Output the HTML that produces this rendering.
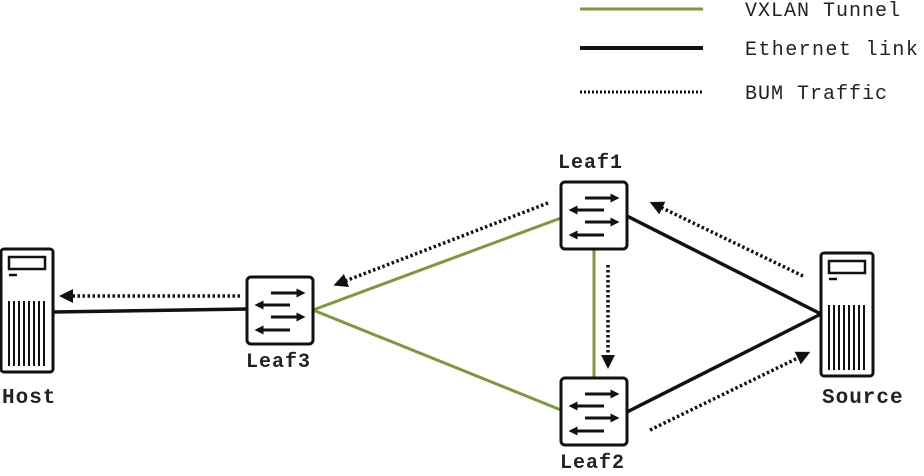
<!DOCTYPE html>
<html><head><style>
html,body{margin:0;padding:0;background:#fff;}
svg text{font-family:"Liberation Mono",monospace;fill:#222;}
</style></head><body>
<svg width="924" height="471" viewBox="0 0 924 471" xmlns="http://www.w3.org/2000/svg">
<defs>
<marker id="ah" viewBox="0 0 10 10" refX="5" refY="5" markerWidth="4" markerHeight="4" orient="auto"><path d="M0,0 L10,5 L0,10 z" fill="#111"/></marker>
<marker id="sh" viewBox="0 0 10 10" refX="5" refY="5" markerWidth="3" markerHeight="3" orient="auto"><path d="M0,0 L10,5 L0,10 z" fill="#111"/></marker>
<g id="sw">
<rect x="0" y="0" width="66" height="67" rx="4" fill="#fff" stroke="#111" stroke-width="3"/>
<g stroke="#111" stroke-width="3" marker-end="url(#sh)">
<line x1="24" y1="16" x2="54" y2="16"/>
<line x1="43" y1="28" x2="12" y2="28"/>
<line x1="24" y1="40" x2="54" y2="40"/>
<line x1="43" y1="53" x2="12" y2="53"/>
</g>
</g>
<g id="srv">
<rect x="0" y="0" width="52" height="123" rx="3" fill="#fff" stroke="#111" stroke-width="3"/>
<rect x="8" y="8" width="36" height="12" fill="#fff" stroke="#111" stroke-width="2.5"/>
<line x1="8" y1="26" x2="16" y2="26" stroke="#111" stroke-width="2.5"/>
<g stroke="#111" stroke-width="2">
<line x1="8" y1="52" x2="8" y2="117"/><line x1="13" y1="52" x2="13" y2="117"/>
<line x1="18" y1="52" x2="18" y2="117"/><line x1="23" y1="52" x2="23" y2="117"/>
<line x1="28" y1="52" x2="28" y2="117"/><line x1="33" y1="52" x2="33" y2="117"/>
<line x1="38" y1="52" x2="38" y2="117"/><line x1="43" y1="52" x2="43" y2="117"/>
</g>
</g>
</defs>

<!-- legend -->
<line x1="580" y1="9" x2="703" y2="9" stroke="#7c9a3c" stroke-width="3"/>
<line x1="580" y1="48" x2="703" y2="48" stroke="#111" stroke-width="4"/>
<line x1="580" y1="92" x2="703" y2="92" stroke="#111" stroke-width="3" stroke-dasharray="2,2"/>
<text x="745" y="16" font-size="20" letter-spacing="1">VXLAN Tunnel</text>
<text x="745" y="55" font-size="20" letter-spacing="1.4">Ethernet link</text>
<text x="745" y="99" font-size="20" letter-spacing="1">BUM Traffic</text>

<!-- links -->
<g stroke="#7c9a3c" stroke-width="3">
<line x1="313" y1="310" x2="561" y2="218"/>
<line x1="313" y1="310" x2="561" y2="410"/>
<line x1="594" y1="249" x2="594" y2="378"/>
</g>
<g stroke="#111" stroke-width="3.5">
<line x1="52" y1="312" x2="247" y2="309"/>
<line x1="627" y1="216" x2="821" y2="314"/>
<line x1="627" y1="412" x2="821" y2="314"/>
</g>

<!-- BUM -->
<g stroke="#111" stroke-width="3.5" stroke-dasharray="2.5,2.5" marker-end="url(#ah)" fill="none">
<line x1="240" y1="296" x2="66" y2="296"/>
<line x1="548" y1="203" x2="340" y2="283"/>
<line x1="608" y1="265" x2="608" y2="362"/>
<line x1="803" y1="276" x2="656" y2="205"/>
<line x1="650" y1="430" x2="804" y2="355"/>
</g>

<use href="#srv" x="1" y="249"/>
<use href="#srv" x="821" y="253"/>
<use href="#sw" x="247" y="277"/>
<use href="#sw" x="561" y="182"/>
<use href="#sw" x="561" y="378"/>

<text x="2" y="403" font-size="21" font-weight="bold" letter-spacing="1">Host</text>
<text x="822" y="403" font-size="21" font-weight="bold" letter-spacing="1">Source</text>
<text x="246" y="367" font-size="20" font-weight="bold" letter-spacing="1">Leaf3</text>
<text x="558" y="168" font-size="20" font-weight="bold" letter-spacing="1">Leaf1</text>
<text x="560" y="468" font-size="20" font-weight="bold" letter-spacing="1">Leaf2</text>
</svg>
</body></html>
